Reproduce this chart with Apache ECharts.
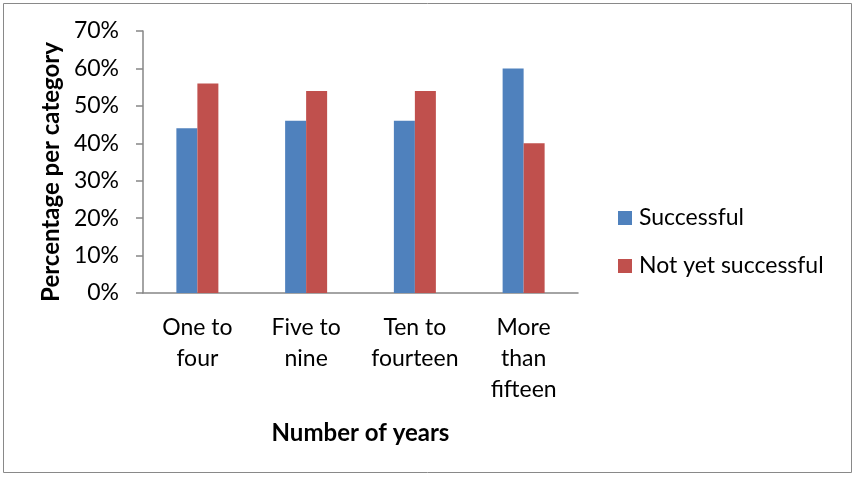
<!DOCTYPE html>
<html>
<head>
<meta charset="utf-8">
<script src="https://cdn.jsdelivr.net/npm/echarts@6/dist/echarts.min.js"></script>
<style>
  html, body { margin: 0; padding: 0; background: #fff; }
  #chart { width: 856px; height: 477px; }
</style>
</head>
<body>
<div id="chart"></div>
<script>
// Share of respondents by years in operation
const categories = ['One to\nfour', 'Five to\nnine', 'Ten to\nfourteen', 'More\nthan\nfifteen'];
const successful = [44, 46, 46, 60];
const notYetSuccessful = [56, 54, 54, 40];
const seriesNames = ['Successful', 'Not yet successful'];

const FONT = 'Lato, "Open Sans", sans-serif';
const chart = echarts.init(document.getElementById('chart'), null, { renderer: 'canvas' });

chart.setOption({
  animation: false,
  backgroundColor: '#ffffff',
  graphic: [{
    type: 'rect',
    shape: { x: 3.5, y: 3.5, width: 848, height: 469 },
    style: { fill: 'none', stroke: '#898989', lineWidth: 1 },
    silent: true
  }],
  grid: { left: 143, right: 278, top: 31, bottom: 184, containLabel: false },
  legend: {
    orient: 'vertical',
    left: 613,
    top: 200,
    itemWidth: 14,
    itemHeight: 14,
    itemGap: 22,
    icon: 'rect',
    textStyle: { fontFamily: FONT, fontSize: 23, lineHeight: 26, color: '#000', padding: [0, 0, 0, 2] },
    data: seriesNames
  },
  xAxis: {
    type: 'category',
    data: categories,
    name: 'Number of years',
    nameLocation: 'middle',
    nameGap: 128,
    nameTextStyle: { fontFamily: FONT, fontSize: 24, fontWeight: 'bold', color: '#000' },
    axisLine: { lineStyle: { color: '#868686', width: 1.5 } },
    axisTick: { show: false },
    axisLabel: {
      fontFamily: FONT, fontSize: 23, color: '#000', lineHeight: 31,
      margin: 19, verticalAlign: 'top', interval: 0
    }
  },
  yAxis: {
    type: 'value',
    min: 0,
    max: 70,
    interval: 10,
    name: 'Percentage per category',
    nameLocation: 'middle',
    nameGap: 77,
    nameTextStyle: {
      fontFamily: FONT, fontSize: 24, fontWeight: 'bold', color: '#000',
      padding: [0, 20, 0, 0]
    },
    axisLine: { show: true, lineStyle: { color: '#868686', width: 1.5 } },
    axisTick: { show: true, inside: false, length: 7, lineStyle: { color: '#868686', width: 1.5 } },
    splitLine: { show: false },
    axisLabel: {
      fontFamily: FONT, fontSize: 23, color: '#000', margin: 24,
      formatter: v => v + '%'
    }
  },
  series: [
    {
      name: seriesNames[0],
      type: 'bar',
      data: successful,
      barWidth: 21,
      barGap: '0%',
      itemStyle: { color: '#4f81bd' }
    },
    {
      name: seriesNames[1],
      type: 'bar',
      data: notYetSuccessful,
      barWidth: 21,
      barGap: '0%',
      itemStyle: { color: '#c0504d' }
    }
  ]
});
</script>
</body>
</html>
